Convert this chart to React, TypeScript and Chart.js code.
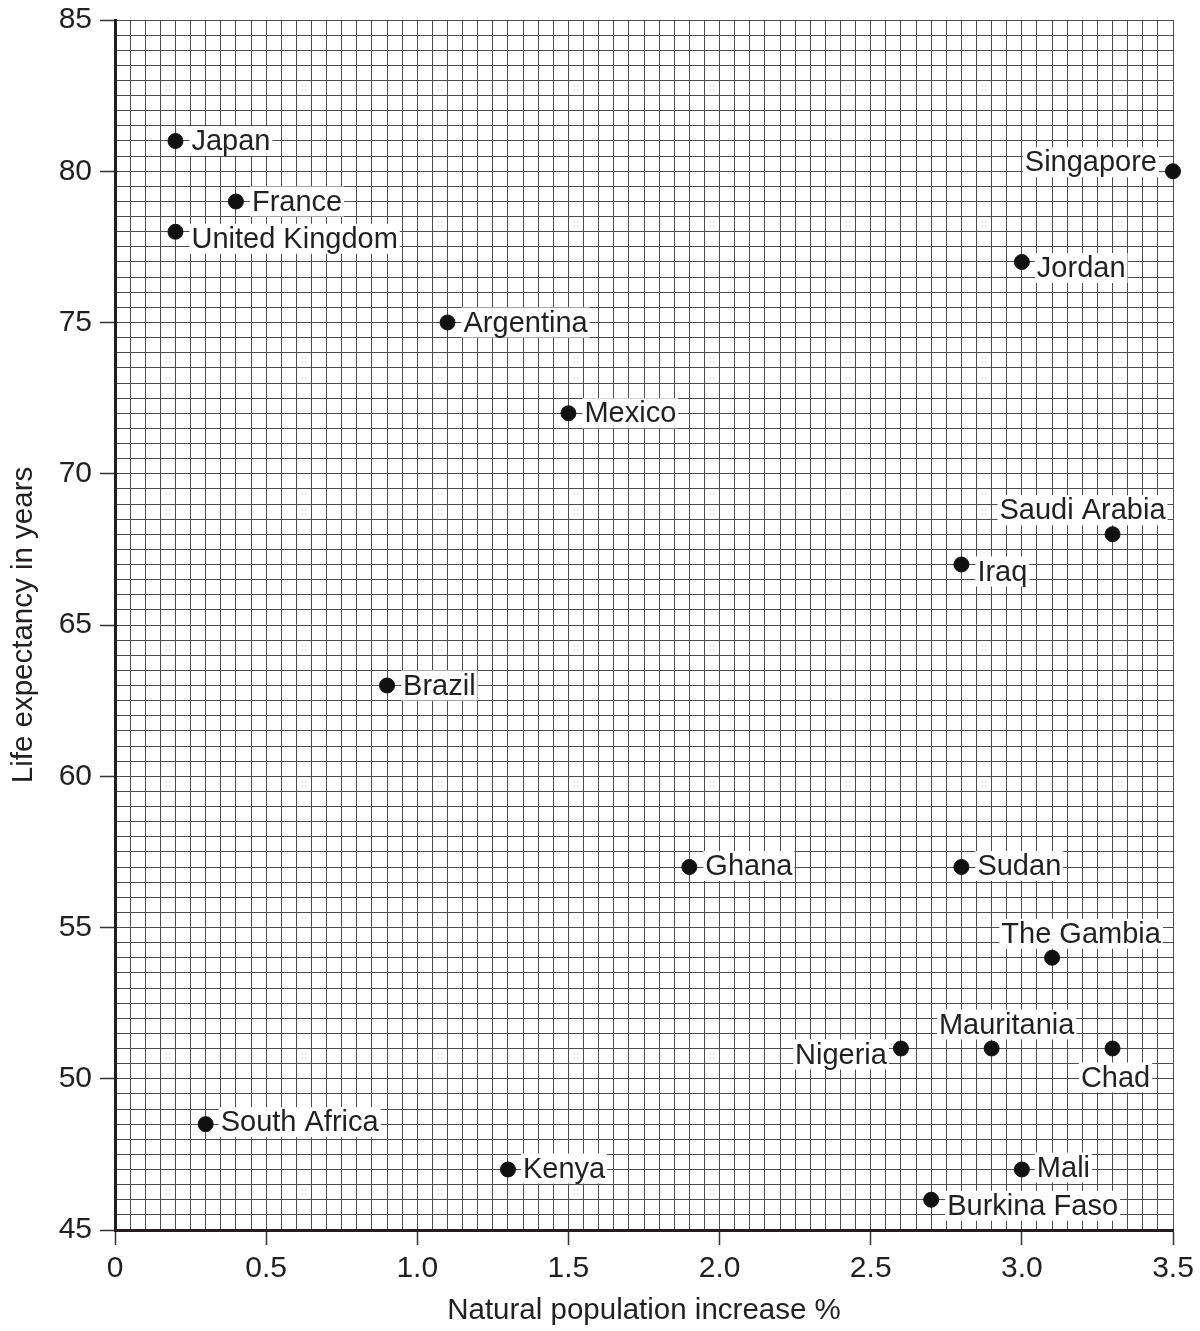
import React, { useEffect, useRef } from "react";
import { Chart, registerables } from "chart.js";

Chart.register(...registerables);

const countries = [
  "Japan", "France", "United Kingdom", "Argentina", "Mexico", "Singapore", "Jordan",
  "Saudi Arabia", "Iraq", "Brazil", "Ghana", "Sudan", "The Gambia", "Mauritania",
  "Nigeria", "Chad", "South Africa", "Kenya", "Mali", "Burkina Faso",
];
const populationIncrease = [
  0.2, 0.4, 0.2, 1.1, 1.5, 3.5, 3.0,
  3.3, 2.8, 0.9, 1.9, 2.8, 3.1, 2.9,
  2.6, 3.3, 0.3, 1.3, 3.0, 2.7,
];
const lifeExpectancy = [
  81, 79, 78, 75, 72, 80, 77,
  68, 67, 63, 57, 57, 54, 51,
  51, 51, 48.5, 47, 47, 46,
];
const xTickLabels = ["0", "0.5", "1.0", "1.5", "2.0", "2.5", "3.0", "3.5"];
const yTickLabels = ["45", "50", "55", "60", "65", "70", "75", "80", "85"];

// label placement (style): [dx, dy, textAlign]
const labelPlacement: Record<string, [number, number, CanvasTextAlign]> = {
  "Japan": [16, 0, "left"],
  "France": [16, 0, "left"],
  "United Kingdom": [16, 7, "left"],
  "Argentina": [16, 0, "left"],
  "Mexico": [16, 0, "left"],
  "Singapore": [-16, -9, "right"],
  "Jordan": [15, 6, "left"],
  "Saudi Arabia": [-30, -24, "center"],
  "Iraq": [16, 7, "left"],
  "Brazil": [16, 0, "left"],
  "Ghana": [16, -1, "left"],
  "Sudan": [16, -1, "left"],
  "The Gambia": [29, -24, "center"],
  "Mauritania": [15, -24, "center"],
  "Nigeria": [-14, 6, "right"],
  "Chad": [3, 29, "center"],
  "South Africa": [15, -2, "left"],
  "Kenya": [15, -1, "left"],
  "Mali": [15, -2, "left"],
  "Burkina Faso": [16, 6, "left"],
};

const FONT = '"Liberation Sans", Arial, Helvetica, sans-serif';

const isMultiple = (v: number, step: number) =>
  Math.abs(v / step - Math.round(v / step)) < 1e-6;

const labelPlugin = {
  id: "pointLabels",
  afterDatasetsDraw(chart: any) {
    const ctx = chart.ctx as CanvasRenderingContext2D;
    const meta = chart.getDatasetMeta(0);
    ctx.save();
    ctx.font = `29px ${FONT}`;
    ctx.textBaseline = "middle";
    meta.data.forEach((pt: any, i: number) => {
      const name = countries[i];
      const [dx, dy, align] = labelPlacement[name] || [16, 0, "left"];
      const x = pt.x + dx;
      const y = pt.y + dy;
      const w = ctx.measureText(name).width;
      let left = x;
      if (align === "right") left = x - w;
      else if (align === "center") left = x - w / 2;
      ctx.fillStyle = "#ffffff";
      ctx.fillRect(left - 2, y - 15, w + 4, 30);
      ctx.fillStyle = "#231f20";
      ctx.textAlign = align;
      ctx.fillText(name, x, y + 1);
    });
    ctx.restore();
  },
};

export default function App() {
  const ref = useRef<HTMLCanvasElement | null>(null);
  useEffect(() => {
    if (!ref.current) return;
    Chart.defaults.font.family = FONT;
    const chart = new Chart(ref.current, {
      type: "scatter",
      data: {
        datasets: [
          {
            data: populationIncrease.map((x, i) => ({ x, y: lifeExpectancy[i] })),
            backgroundColor: "#111111",
            borderColor: "#111111",
            pointRadius: 7.5,
            pointHoverRadius: 7.5,
            clip: false,
          },
        ],
      },
      options: {
        responsive: false,
        animation: false,
        devicePixelRatio: 1,
        layout: { padding: { top: 20, right: 27, left: 0, bottom: 0 } },
        plugins: { legend: { display: false }, tooltip: { enabled: false } },
        scales: {
          x: {
            type: "linear",
            min: 0,
            max: 3.5,
            afterFit: (s: any) => {
              s.height = 101;
              s.paddingLeft = 0;
              s.paddingRight = 0;
            },
            border: { display: true, color: "#231f20", width: 3 },
            grid: {
              color: "#4d4d4d",
              lineWidth: 1,
              tickLength: 15,
              tickWidth: 1.5,
              tickColor: (c: any) =>
                c.tick && isMultiple(c.tick.value, 0.5) ? "#333333" : "rgba(0,0,0,0)",
            },
            ticks: {
              stepSize: 0.05,
              maxTicksLimit: 500,
              autoSkip: false,
              maxRotation: 0,
              padding: 6,
              color: "#231f20",
              font: { size: 30 },
              callback: (v: any) => {
                const n = Number(v);
                if (!isMultiple(n, 0.5)) return "";
                return xTickLabels[Math.round(n / 0.5)];
              },
            },
            title: {
              display: true,
              text: "Natural population increase %",
              color: "#231f20",
              font: { size: 29.5 },
              padding: { top: 0, bottom: 2 },
            },
          },
          y: {
            type: "linear",
            min: 45,
            max: 85,
            afterFit: (s: any) => {
              s.width = 115;
              s.paddingTop = 0;
              s.paddingBottom = 0;
            },
            border: { display: true, color: "#231f20", width: 3 },
            grid: {
              color: "#4d4d4d",
              lineWidth: 1,
              tickLength: 15,
              tickWidth: 1.5,
              tickColor: (c: any) =>
                c.tick && isMultiple(c.tick.value, 5) ? "#333333" : "rgba(0,0,0,0)",
            },
            ticks: {
              stepSize: 0.5,
              maxTicksLimit: 500,
              autoSkip: false,
              padding: 8,
              color: "#231f20",
              font: { size: 30 },
              callback: (v: any) => {
                const n = Number(v);
                if (!isMultiple(n, 5)) return "";
                return yTickLabels[Math.round((n - 45) / 5)];
              },
            },
            title: {
              display: true,
              text: "Life expectancy in years",
              color: "#231f20",
              font: { size: 29.5 },
              padding: { top: 6, bottom: 0 },
            },
          },
        },
      },
      plugins: [labelPlugin],
    });
    return () => chart.destroy();
  }, []);
  return (
    <canvas
      ref={ref}
      width={1200}
      height={1331}
      style={{ position: "absolute", left: 0, top: 0, width: 1200, height: 1331 }}
    />
  );
}
